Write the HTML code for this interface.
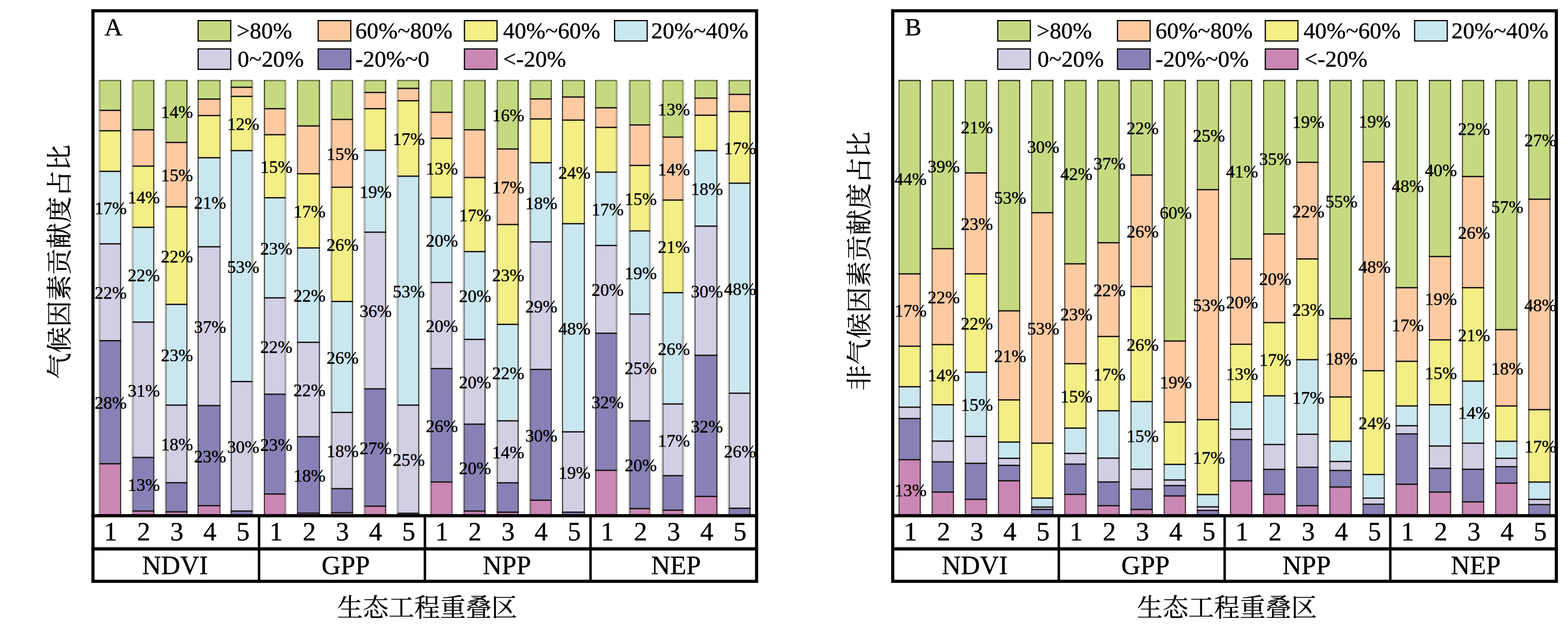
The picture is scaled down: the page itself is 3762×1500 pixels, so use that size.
<!DOCTYPE html>
<html lang="zh"><head><meta charset="utf-8"><title>Contribution ratio charts</title>
<style>
html,body{margin:0;padding:0;background:#fff;}
body{width:3762px;height:1500px;overflow:hidden;}
svg{display:block;}
svg text{font-family:"Liberation Serif",serif;fill:#000;stroke:#000;stroke-width:0.55px;}
svg text.cjk{font-family:"Liberation Serif","Noto Serif CJK SC",serif;}
</style></head><body>
<svg width="3762" height="1500" viewBox="0 0 3762 1500">
<rect width="3762" height="1500" fill="#fff"/>
<g transform="translate(0,0)">
<g>
<rect x="238.4" y="192" width="52.4" height="72.8" fill="#c5da80"/>
<rect x="238.4" y="264.8" width="52.4" height="49.1" fill="#fdcaa2"/>
<rect x="238.4" y="313.9" width="52.4" height="97.3" fill="#f3ee86"/>
<rect x="238.4" y="411.2" width="52.4" height="174" fill="#cae7f0"/>
<rect x="238.4" y="585.2" width="52.4" height="232.4" fill="#d2cee4"/>
<rect x="238.4" y="817.6" width="52.4" height="295.4" fill="#8881b6"/>
<rect x="238.4" y="1113" width="52.4" height="121.5" fill="#ca87b5"/>
<rect x="235.6" y="194" width="2.8" height="1040.5" fill="#8a8678" opacity="0.42"/>
<rect x="238.4" y="192" width="2.7" height="1042.5" fill="#2a261c" opacity="0.3"/>
<rect x="288" y="192" width="2.8" height="1042.5" fill="#2a261c" opacity="0.88"/>
<rect x="238.4" y="191.6" width="52.4" height="3.4" fill="#2a261c" opacity="0.5"/>
<rect x="238.4" y="263.2" width="52.4" height="3.3" fill="#1c1718"/>
<rect x="238.4" y="312.2" width="52.4" height="3.3" fill="#1c1718"/>
<rect x="238.4" y="409.6" width="52.4" height="3.3" fill="#1c1718"/>
<rect x="238.4" y="583.6" width="52.4" height="3.3" fill="#1c1718"/>
<rect x="238.4" y="816" width="52.4" height="3.3" fill="#1c1718"/>
<rect x="238.4" y="1111.3" width="52.4" height="3.3" fill="#1c1718"/>
</g>
<g>
<rect x="317.9" y="192" width="52.4" height="119.5" fill="#c5da80"/>
<rect x="317.9" y="311.5" width="52.4" height="87.2" fill="#fdcaa2"/>
<rect x="317.9" y="398.7" width="52.4" height="146.8" fill="#f3ee86"/>
<rect x="317.9" y="545.5" width="52.4" height="227.5" fill="#cae7f0"/>
<rect x="317.9" y="773" width="52.4" height="325" fill="#d2cee4"/>
<rect x="317.9" y="1098" width="52.4" height="128.6" fill="#8881b6"/>
<rect x="317.9" y="1226.6" width="52.4" height="7.9" fill="#ca87b5"/>
<rect x="315.1" y="194" width="2.8" height="1040.5" fill="#8a8678" opacity="0.42"/>
<rect x="317.9" y="192" width="2.7" height="1042.5" fill="#2a261c" opacity="0.3"/>
<rect x="367.5" y="192" width="2.8" height="1042.5" fill="#2a261c" opacity="0.88"/>
<rect x="317.9" y="191.6" width="52.4" height="3.4" fill="#2a261c" opacity="0.5"/>
<rect x="317.9" y="309.9" width="52.4" height="3.3" fill="#1c1718"/>
<rect x="317.9" y="397.1" width="52.4" height="3.3" fill="#1c1718"/>
<rect x="317.9" y="543.9" width="52.4" height="3.3" fill="#1c1718"/>
<rect x="317.9" y="771.4" width="52.4" height="3.3" fill="#1c1718"/>
<rect x="317.9" y="1096.3" width="52.4" height="3.3" fill="#1c1718"/>
<rect x="317.9" y="1224.9" width="52.4" height="3.3" fill="#1c1718"/>
</g>
<g>
<rect x="397.4" y="192" width="52.4" height="149.9" fill="#c5da80"/>
<rect x="397.4" y="341.9" width="52.4" height="154.5" fill="#fdcaa2"/>
<rect x="397.4" y="496.4" width="52.4" height="234.1" fill="#f3ee86"/>
<rect x="397.4" y="730.5" width="52.4" height="241.7" fill="#cae7f0"/>
<rect x="397.4" y="972.2" width="52.4" height="186.4" fill="#d2cee4"/>
<rect x="397.4" y="1158.6" width="52.4" height="69.9" fill="#8881b6"/>
<rect x="397.4" y="1228.5" width="52.4" height="6" fill="#ca87b5"/>
<rect x="394.6" y="194" width="2.8" height="1040.5" fill="#8a8678" opacity="0.42"/>
<rect x="397.4" y="192" width="2.7" height="1042.5" fill="#2a261c" opacity="0.5"/>
<rect x="447" y="192" width="2.8" height="1042.5" fill="#2a261c" opacity="0.88"/>
<rect x="397.4" y="191.6" width="52.4" height="3.4" fill="#2a261c" opacity="0.5"/>
<rect x="397.4" y="340.2" width="52.4" height="3.3" fill="#1c1718"/>
<rect x="397.4" y="494.8" width="52.4" height="3.3" fill="#1c1718"/>
<rect x="397.4" y="728.9" width="52.4" height="3.3" fill="#1c1718"/>
<rect x="397.4" y="970.6" width="52.4" height="3.3" fill="#1c1718"/>
<rect x="397.4" y="1156.9" width="52.4" height="3.3" fill="#1c1718"/>
<rect x="397.4" y="1226.8" width="52.4" height="3.3" fill="#1c1718"/>
</g>
<g>
<rect x="474" y="192" width="55.2" height="45.9" fill="#c5da80"/>
<rect x="474" y="237.9" width="55.2" height="39.4" fill="#fdcaa2"/>
<rect x="474" y="277.3" width="55.2" height="101.2" fill="#f3ee86"/>
<rect x="474" y="378.5" width="55.2" height="213.7" fill="#cae7f0"/>
<rect x="474" y="592.2" width="55.2" height="381.2" fill="#d2cee4"/>
<rect x="474" y="973.4" width="55.2" height="240.3" fill="#8881b6"/>
<rect x="474" y="1213.7" width="55.2" height="20.8" fill="#ca87b5"/>
<rect x="474" y="192" width="2.7" height="1042.5" fill="#2a261c" opacity="0.85"/>
<rect x="526.4" y="192" width="2.8" height="1042.5" fill="#2a261c" opacity="0.6"/>
<rect x="474" y="191.6" width="55.2" height="3.4" fill="#2a261c" opacity="0.5"/>
<rect x="474" y="236.2" width="55.2" height="3.3" fill="#1c1718"/>
<rect x="474" y="275.7" width="55.2" height="3.3" fill="#1c1718"/>
<rect x="474" y="376.9" width="55.2" height="3.3" fill="#1c1718"/>
<rect x="474" y="590.6" width="55.2" height="3.3" fill="#1c1718"/>
<rect x="474" y="971.8" width="55.2" height="3.3" fill="#1c1718"/>
<rect x="474" y="1212" width="55.2" height="3.3" fill="#1c1718"/>
</g>
<g>
<rect x="553.5" y="192" width="52.4" height="17.5" fill="#c5da80"/>
<rect x="553.5" y="209.5" width="52.4" height="21.8" fill="#fdcaa2"/>
<rect x="553.5" y="231.3" width="52.4" height="130.1" fill="#f3ee86"/>
<rect x="553.5" y="361.4" width="52.4" height="554.4" fill="#cae7f0"/>
<rect x="553.5" y="915.8" width="52.4" height="310.8" fill="#d2cee4"/>
<rect x="553.5" y="1226.6" width="52.4" height="7.9" fill="#8881b6"/>
<rect x="605.9" y="194" width="2.8" height="1040.5" fill="#8a8678" opacity="0.42"/>
<rect x="553.5" y="192" width="2.7" height="1042.5" fill="#2a261c" opacity="0.85"/>
<rect x="603.1" y="192" width="2.8" height="1042.5" fill="#2a261c" opacity="0.35"/>
<rect x="553.5" y="191.6" width="52.4" height="3.4" fill="#2a261c" opacity="0.5"/>
<rect x="553.5" y="207.8" width="52.4" height="3.3" fill="#1c1718"/>
<rect x="553.5" y="229.7" width="52.4" height="3.3" fill="#1c1718"/>
<rect x="553.5" y="359.8" width="52.4" height="3.3" fill="#1c1718"/>
<rect x="553.5" y="914.1" width="52.4" height="3.3" fill="#1c1718"/>
<rect x="553.5" y="1224.9" width="52.4" height="3.3" fill="#1c1718"/>
</g>
<g>
<rect x="633" y="192" width="52.4" height="68.9" fill="#c5da80"/>
<rect x="633" y="260.9" width="52.4" height="62.3" fill="#fdcaa2"/>
<rect x="633" y="323.2" width="52.4" height="151.4" fill="#f3ee86"/>
<rect x="633" y="474.6" width="52.4" height="240.3" fill="#cae7f0"/>
<rect x="633" y="714.9" width="52.4" height="231.2" fill="#d2cee4"/>
<rect x="633" y="946.1" width="52.4" height="239.6" fill="#8881b6"/>
<rect x="633" y="1185.7" width="52.4" height="48.8" fill="#ca87b5"/>
<rect x="685.4" y="194" width="2.8" height="1040.5" fill="#8a8678" opacity="0.42"/>
<rect x="633" y="192" width="2.7" height="1042.5" fill="#2a261c" opacity="0.85"/>
<rect x="682.6" y="192" width="2.8" height="1042.5" fill="#2a261c" opacity="0.35"/>
<rect x="633" y="191.6" width="52.4" height="3.4" fill="#2a261c" opacity="0.5"/>
<rect x="633" y="259.2" width="52.4" height="3.3" fill="#1c1718"/>
<rect x="633" y="321.6" width="52.4" height="3.3" fill="#1c1718"/>
<rect x="633" y="473" width="52.4" height="3.3" fill="#1c1718"/>
<rect x="633" y="713.2" width="52.4" height="3.3" fill="#1c1718"/>
<rect x="633" y="944.5" width="52.4" height="3.3" fill="#1c1718"/>
<rect x="633" y="1184" width="52.4" height="3.3" fill="#1c1718"/>
</g>
<g>
<rect x="712.5" y="192" width="55.2" height="110.2" fill="#c5da80"/>
<rect x="712.5" y="302.2" width="55.2" height="114.8" fill="#fdcaa2"/>
<rect x="712.5" y="417" width="55.2" height="178" fill="#f3ee86"/>
<rect x="712.5" y="595" width="55.2" height="226.5" fill="#cae7f0"/>
<rect x="712.5" y="821.5" width="55.2" height="226.7" fill="#d2cee4"/>
<rect x="712.5" y="1048.2" width="55.2" height="183.4" fill="#8881b6"/>
<rect x="712.5" y="1231.6" width="55.2" height="2.9" fill="#ca87b5"/>
<rect x="712.5" y="192" width="2.7" height="1042.5" fill="#2a261c" opacity="0.7"/>
<rect x="764.9" y="192" width="2.8" height="1042.5" fill="#2a261c" opacity="0.8"/>
<rect x="712.5" y="191.6" width="55.2" height="3.4" fill="#2a261c" opacity="0.5"/>
<rect x="712.5" y="300.6" width="55.2" height="3.3" fill="#1c1718"/>
<rect x="712.5" y="415.4" width="55.2" height="3.3" fill="#1c1718"/>
<rect x="712.5" y="593.4" width="55.2" height="3.3" fill="#1c1718"/>
<rect x="712.5" y="819.9" width="55.2" height="3.3" fill="#1c1718"/>
<rect x="712.5" y="1046.5" width="55.2" height="3.3" fill="#1c1718"/>
<rect x="712.5" y="1229.9" width="55.2" height="3.3" fill="#1c1718"/>
</g>
<g>
<rect x="794.8" y="192" width="52.4" height="94.6" fill="#c5da80"/>
<rect x="794.8" y="286.6" width="52.4" height="162.7" fill="#fdcaa2"/>
<rect x="794.8" y="449.3" width="52.4" height="274.2" fill="#f3ee86"/>
<rect x="794.8" y="723.5" width="52.4" height="266.3" fill="#cae7f0"/>
<rect x="794.8" y="989.8" width="52.4" height="183" fill="#d2cee4"/>
<rect x="794.8" y="1172.8" width="52.4" height="57.7" fill="#8881b6"/>
<rect x="794.8" y="1230.5" width="52.4" height="4" fill="#ca87b5"/>
<rect x="792" y="194" width="2.8" height="1040.5" fill="#8a8678" opacity="0.42"/>
<rect x="794.8" y="192" width="2.7" height="1042.5" fill="#2a261c" opacity="0.5"/>
<rect x="844.4" y="192" width="2.8" height="1042.5" fill="#2a261c" opacity="0.85"/>
<rect x="794.8" y="191.6" width="52.4" height="3.4" fill="#2a261c" opacity="0.5"/>
<rect x="794.8" y="285" width="52.4" height="3.3" fill="#1c1718"/>
<rect x="794.8" y="447.7" width="52.4" height="3.3" fill="#1c1718"/>
<rect x="794.8" y="721.9" width="52.4" height="3.3" fill="#1c1718"/>
<rect x="794.8" y="988.1" width="52.4" height="3.3" fill="#1c1718"/>
<rect x="794.8" y="1171.1" width="52.4" height="3.3" fill="#1c1718"/>
<rect x="794.8" y="1228.8" width="52.4" height="3.3" fill="#1c1718"/>
</g>
<g>
<rect x="874.2" y="192" width="52.4" height="30" fill="#c5da80"/>
<rect x="874.2" y="222" width="52.4" height="38.9" fill="#fdcaa2"/>
<rect x="874.2" y="260.9" width="52.4" height="99.7" fill="#f3ee86"/>
<rect x="874.2" y="360.6" width="52.4" height="196.6" fill="#cae7f0"/>
<rect x="874.2" y="557.2" width="52.4" height="376.1" fill="#d2cee4"/>
<rect x="874.2" y="933.3" width="52.4" height="281.6" fill="#8881b6"/>
<rect x="874.2" y="1214.9" width="52.4" height="19.6" fill="#ca87b5"/>
<rect x="871.4" y="194" width="2.8" height="1040.5" fill="#8a8678" opacity="0.42"/>
<rect x="874.2" y="192" width="2.7" height="1042.5" fill="#2a261c" opacity="0.3"/>
<rect x="923.8" y="192" width="2.8" height="1042.5" fill="#2a261c" opacity="0.85"/>
<rect x="874.2" y="191.6" width="52.4" height="3.4" fill="#2a261c" opacity="0.5"/>
<rect x="874.2" y="220.3" width="52.4" height="3.3" fill="#1c1718"/>
<rect x="874.2" y="259.2" width="52.4" height="3.3" fill="#1c1718"/>
<rect x="874.2" y="359" width="52.4" height="3.3" fill="#1c1718"/>
<rect x="874.2" y="555.6" width="52.4" height="3.3" fill="#1c1718"/>
<rect x="874.2" y="931.6" width="52.4" height="3.3" fill="#1c1718"/>
<rect x="874.2" y="1213.2" width="52.4" height="3.3" fill="#1c1718"/>
</g>
<g>
<rect x="953.7" y="192" width="52.4" height="20.2" fill="#c5da80"/>
<rect x="953.7" y="212.2" width="52.4" height="29.6" fill="#fdcaa2"/>
<rect x="953.7" y="241.8" width="52.4" height="181" fill="#f3ee86"/>
<rect x="953.7" y="422.8" width="52.4" height="549.4" fill="#cae7f0"/>
<rect x="953.7" y="972.2" width="52.4" height="259.8" fill="#d2cee4"/>
<rect x="953.7" y="1232" width="52.4" height="2.5" fill="#8881b6"/>
<rect x="950.9" y="194" width="2.8" height="1040.5" fill="#8a8678" opacity="0.42"/>
<rect x="953.7" y="192" width="2.7" height="1042.5" fill="#2a261c" opacity="0.3"/>
<rect x="1003.3" y="192" width="2.8" height="1042.5" fill="#2a261c" opacity="0.85"/>
<rect x="953.7" y="191.6" width="52.4" height="3.4" fill="#2a261c" opacity="0.5"/>
<rect x="953.7" y="210.5" width="52.4" height="3.3" fill="#1c1718"/>
<rect x="953.7" y="240.2" width="52.4" height="3.3" fill="#1c1718"/>
<rect x="953.7" y="421.2" width="52.4" height="3.3" fill="#1c1718"/>
<rect x="953.7" y="970.6" width="52.4" height="3.3" fill="#1c1718"/>
<rect x="953.7" y="1230.3" width="52.4" height="3.3" fill="#1c1718"/>
</g>
<g>
<rect x="1033.2" y="192" width="52.4" height="77.5" fill="#c5da80"/>
<rect x="1033.2" y="269.5" width="52.4" height="62.3" fill="#fdcaa2"/>
<rect x="1033.2" y="331.8" width="52.4" height="141.7" fill="#f3ee86"/>
<rect x="1033.2" y="473.5" width="52.4" height="204.4" fill="#cae7f0"/>
<rect x="1033.2" y="677.9" width="52.4" height="206.7" fill="#d2cee4"/>
<rect x="1033.2" y="884.6" width="52.4" height="272.2" fill="#8881b6"/>
<rect x="1033.2" y="1156.8" width="52.4" height="77.7" fill="#ca87b5"/>
<rect x="1030.4" y="194" width="2.8" height="1040.5" fill="#8a8678" opacity="0.42"/>
<rect x="1033.2" y="192" width="2.7" height="1042.5" fill="#2a261c" opacity="0.45"/>
<rect x="1082.8" y="192" width="2.8" height="1042.5" fill="#2a261c" opacity="0.55"/>
<rect x="1033.2" y="191.6" width="52.4" height="3.4" fill="#2a261c" opacity="0.5"/>
<rect x="1033.2" y="267.9" width="52.4" height="3.3" fill="#1c1718"/>
<rect x="1033.2" y="330.2" width="52.4" height="3.3" fill="#1c1718"/>
<rect x="1033.2" y="471.9" width="52.4" height="3.3" fill="#1c1718"/>
<rect x="1033.2" y="676.2" width="52.4" height="3.3" fill="#1c1718"/>
<rect x="1033.2" y="883" width="52.4" height="3.3" fill="#1c1718"/>
<rect x="1033.2" y="1155.1" width="52.4" height="3.3" fill="#1c1718"/>
</g>
<g>
<rect x="1112.7" y="192" width="52.4" height="119.5" fill="#c5da80"/>
<rect x="1112.7" y="311.5" width="52.4" height="114.5" fill="#fdcaa2"/>
<rect x="1112.7" y="426" width="52.4" height="177.9" fill="#f3ee86"/>
<rect x="1112.7" y="603.9" width="52.4" height="210.6" fill="#cae7f0"/>
<rect x="1112.7" y="814.5" width="52.4" height="203.5" fill="#d2cee4"/>
<rect x="1112.7" y="1018" width="52.4" height="208.6" fill="#8881b6"/>
<rect x="1112.7" y="1226.6" width="52.4" height="7.9" fill="#ca87b5"/>
<rect x="1109.9" y="194" width="2.8" height="1040.5" fill="#8a8678" opacity="0.42"/>
<rect x="1112.7" y="192" width="2.7" height="1042.5" fill="#2a261c" opacity="0.55"/>
<rect x="1162.3" y="192" width="2.8" height="1042.5" fill="#2a261c" opacity="0.85"/>
<rect x="1112.7" y="191.6" width="52.4" height="3.4" fill="#2a261c" opacity="0.5"/>
<rect x="1112.7" y="309.9" width="52.4" height="3.3" fill="#1c1718"/>
<rect x="1112.7" y="424.4" width="52.4" height="3.3" fill="#1c1718"/>
<rect x="1112.7" y="602.2" width="52.4" height="3.3" fill="#1c1718"/>
<rect x="1112.7" y="812.9" width="52.4" height="3.3" fill="#1c1718"/>
<rect x="1112.7" y="1016.4" width="52.4" height="3.3" fill="#1c1718"/>
<rect x="1112.7" y="1224.9" width="52.4" height="3.3" fill="#1c1718"/>
</g>
<g>
<rect x="1192.2" y="192" width="52.4" height="165.5" fill="#c5da80"/>
<rect x="1192.2" y="357.5" width="52.4" height="181.4" fill="#fdcaa2"/>
<rect x="1192.2" y="538.9" width="52.4" height="239.5" fill="#f3ee86"/>
<rect x="1192.2" y="778.4" width="52.4" height="231.6" fill="#cae7f0"/>
<rect x="1192.2" y="1010" width="52.4" height="148.8" fill="#d2cee4"/>
<rect x="1192.2" y="1158.8" width="52.4" height="70.5" fill="#8881b6"/>
<rect x="1192.2" y="1229.3" width="52.4" height="5.2" fill="#ca87b5"/>
<rect x="1189.4" y="194" width="2.8" height="1040.5" fill="#8a8678" opacity="0.42"/>
<rect x="1192.2" y="192" width="2.7" height="1042.5" fill="#2a261c" opacity="0.55"/>
<rect x="1241.8" y="192" width="2.8" height="1042.5" fill="#2a261c" opacity="0.85"/>
<rect x="1192.2" y="191.6" width="52.4" height="3.4" fill="#2a261c" opacity="0.5"/>
<rect x="1192.2" y="355.9" width="52.4" height="3.3" fill="#1c1718"/>
<rect x="1192.2" y="537.2" width="52.4" height="3.3" fill="#1c1718"/>
<rect x="1192.2" y="776.8" width="52.4" height="3.3" fill="#1c1718"/>
<rect x="1192.2" y="1008.4" width="52.4" height="3.3" fill="#1c1718"/>
<rect x="1192.2" y="1157.1" width="52.4" height="3.3" fill="#1c1718"/>
<rect x="1192.2" y="1227.6" width="52.4" height="3.3" fill="#1c1718"/>
</g>
<g>
<rect x="1271.6" y="192" width="52.4" height="45.5" fill="#c5da80"/>
<rect x="1271.6" y="237.5" width="52.4" height="47.9" fill="#fdcaa2"/>
<rect x="1271.6" y="285.4" width="52.4" height="105.1" fill="#f3ee86"/>
<rect x="1271.6" y="390.5" width="52.4" height="190" fill="#cae7f0"/>
<rect x="1271.6" y="580.5" width="52.4" height="306.1" fill="#d2cee4"/>
<rect x="1271.6" y="886.6" width="52.4" height="313.9" fill="#8881b6"/>
<rect x="1271.6" y="1200.5" width="52.4" height="34" fill="#ca87b5"/>
<rect x="1268.8" y="194" width="2.8" height="1040.5" fill="#8a8678" opacity="0.42"/>
<rect x="1271.6" y="192" width="2.7" height="1042.5" fill="#2a261c" opacity="0.55"/>
<rect x="1321.2" y="192" width="2.8" height="1042.5" fill="#2a261c" opacity="0.7"/>
<rect x="1271.6" y="191.6" width="52.4" height="3.4" fill="#2a261c" opacity="0.5"/>
<rect x="1271.6" y="235.8" width="52.4" height="3.3" fill="#1c1718"/>
<rect x="1271.6" y="283.8" width="52.4" height="3.3" fill="#1c1718"/>
<rect x="1271.6" y="388.9" width="52.4" height="3.3" fill="#1c1718"/>
<rect x="1271.6" y="578.9" width="52.4" height="3.3" fill="#1c1718"/>
<rect x="1271.6" y="885" width="52.4" height="3.3" fill="#1c1718"/>
<rect x="1271.6" y="1198.8" width="52.4" height="3.3" fill="#1c1718"/>
</g>
<g>
<rect x="1348.3" y="192" width="55.2" height="40.9" fill="#c5da80"/>
<rect x="1348.3" y="232.9" width="55.2" height="55.3" fill="#fdcaa2"/>
<rect x="1348.3" y="288.2" width="55.2" height="248.7" fill="#f3ee86"/>
<rect x="1348.3" y="536.9" width="55.2" height="499.6" fill="#cae7f0"/>
<rect x="1348.3" y="1036.5" width="55.2" height="192.8" fill="#d2cee4"/>
<rect x="1348.3" y="1229.3" width="55.2" height="5.2" fill="#8881b6"/>
<rect x="1348.3" y="192" width="2.7" height="1042.5" fill="#2a261c" opacity="0.85"/>
<rect x="1400.7" y="192" width="2.8" height="1042.5" fill="#2a261c" opacity="0.85"/>
<rect x="1348.3" y="191.6" width="55.2" height="3.4" fill="#2a261c" opacity="0.5"/>
<rect x="1348.3" y="231.2" width="55.2" height="3.3" fill="#1c1718"/>
<rect x="1348.3" y="286.6" width="55.2" height="3.3" fill="#1c1718"/>
<rect x="1348.3" y="535.2" width="55.2" height="3.3" fill="#1c1718"/>
<rect x="1348.3" y="1034.8" width="55.2" height="3.3" fill="#1c1718"/>
<rect x="1348.3" y="1227.6" width="55.2" height="3.3" fill="#1c1718"/>
</g>
<g>
<rect x="1427.8" y="192" width="52.4" height="66.6" fill="#c5da80"/>
<rect x="1427.8" y="258.6" width="52.4" height="47.1" fill="#fdcaa2"/>
<rect x="1427.8" y="305.7" width="52.4" height="107.4" fill="#f3ee86"/>
<rect x="1427.8" y="413.1" width="52.4" height="176" fill="#cae7f0"/>
<rect x="1427.8" y="589.1" width="52.4" height="210.6" fill="#d2cee4"/>
<rect x="1427.8" y="799.7" width="52.4" height="329.1" fill="#8881b6"/>
<rect x="1427.8" y="1128.8" width="52.4" height="105.7" fill="#ca87b5"/>
<rect x="1480.2" y="194" width="2.8" height="1040.5" fill="#8a8678" opacity="0.42"/>
<rect x="1427.8" y="192" width="2.7" height="1042.5" fill="#2a261c" opacity="0.7"/>
<rect x="1477.4" y="192" width="2.8" height="1042.5" fill="#2a261c" opacity="0.35"/>
<rect x="1427.8" y="191.6" width="52.4" height="3.4" fill="#2a261c" opacity="0.5"/>
<rect x="1427.8" y="257" width="52.4" height="3.3" fill="#1c1718"/>
<rect x="1427.8" y="304.1" width="52.4" height="3.3" fill="#1c1718"/>
<rect x="1427.8" y="411.5" width="52.4" height="3.3" fill="#1c1718"/>
<rect x="1427.8" y="587.5" width="52.4" height="3.3" fill="#1c1718"/>
<rect x="1427.8" y="798.1" width="52.4" height="3.3" fill="#1c1718"/>
<rect x="1427.8" y="1127.1" width="52.4" height="3.3" fill="#1c1718"/>
</g>
<g>
<rect x="1510.1" y="192" width="49.6" height="107.8" fill="#c5da80"/>
<rect x="1510.1" y="299.8" width="49.6" height="97.2" fill="#fdcaa2"/>
<rect x="1510.1" y="397" width="49.6" height="157.1" fill="#f3ee86"/>
<rect x="1510.1" y="554.1" width="49.6" height="199.7" fill="#cae7f0"/>
<rect x="1510.1" y="753.8" width="49.6" height="256.2" fill="#d2cee4"/>
<rect x="1510.1" y="1010" width="49.6" height="210.7" fill="#8881b6"/>
<rect x="1510.1" y="1220.7" width="49.6" height="13.8" fill="#ca87b5"/>
<rect x="1507.3" y="194" width="2.8" height="1040.5" fill="#8a8678" opacity="0.42"/>
<rect x="1559.7" y="194" width="2.8" height="1040.5" fill="#8a8678" opacity="0.42"/>
<rect x="1510.1" y="192" width="2.7" height="1042.5" fill="#2a261c" opacity="0.55"/>
<rect x="1556.9" y="192" width="2.8" height="1042.5" fill="#2a261c" opacity="0.35"/>
<rect x="1510.1" y="191.6" width="49.6" height="3.4" fill="#2a261c" opacity="0.5"/>
<rect x="1510.1" y="298.2" width="49.6" height="3.3" fill="#1c1718"/>
<rect x="1510.1" y="395.4" width="49.6" height="3.3" fill="#1c1718"/>
<rect x="1510.1" y="552.5" width="49.6" height="3.3" fill="#1c1718"/>
<rect x="1510.1" y="752.1" width="49.6" height="3.3" fill="#1c1718"/>
<rect x="1510.1" y="1008.4" width="49.6" height="3.3" fill="#1c1718"/>
<rect x="1510.1" y="1219" width="49.6" height="3.3" fill="#1c1718"/>
</g>
<g>
<rect x="1589.6" y="192" width="49.6" height="137" fill="#c5da80"/>
<rect x="1589.6" y="329" width="49.6" height="151.1" fill="#fdcaa2"/>
<rect x="1589.6" y="480.1" width="49.6" height="222.3" fill="#f3ee86"/>
<rect x="1589.6" y="702.4" width="49.6" height="267.1" fill="#cae7f0"/>
<rect x="1589.6" y="969.5" width="49.6" height="172.1" fill="#d2cee4"/>
<rect x="1589.6" y="1141.6" width="49.6" height="83" fill="#8881b6"/>
<rect x="1589.6" y="1224.6" width="49.6" height="9.9" fill="#ca87b5"/>
<rect x="1586.8" y="194" width="2.8" height="1040.5" fill="#8a8678" opacity="0.42"/>
<rect x="1639.2" y="194" width="2.8" height="1040.5" fill="#8a8678" opacity="0.42"/>
<rect x="1589.6" y="192" width="2.7" height="1042.5" fill="#2a261c" opacity="0.55"/>
<rect x="1636.4" y="192" width="2.8" height="1042.5" fill="#2a261c" opacity="0.35"/>
<rect x="1589.6" y="191.6" width="49.6" height="3.4" fill="#2a261c" opacity="0.5"/>
<rect x="1589.6" y="327.4" width="49.6" height="3.3" fill="#1c1718"/>
<rect x="1589.6" y="478.5" width="49.6" height="3.3" fill="#1c1718"/>
<rect x="1589.6" y="700.8" width="49.6" height="3.3" fill="#1c1718"/>
<rect x="1589.6" y="967.9" width="49.6" height="3.3" fill="#1c1718"/>
<rect x="1589.6" y="1139.9" width="49.6" height="3.3" fill="#1c1718"/>
<rect x="1589.6" y="1222.9" width="49.6" height="3.3" fill="#1c1718"/>
</g>
<g>
<rect x="1666.2" y="192" width="55.2" height="43.6" fill="#c5da80"/>
<rect x="1666.2" y="235.6" width="55.2" height="40.9" fill="#fdcaa2"/>
<rect x="1666.2" y="276.5" width="55.2" height="84.9" fill="#f3ee86"/>
<rect x="1666.2" y="361.4" width="55.2" height="181.4" fill="#cae7f0"/>
<rect x="1666.2" y="542.8" width="55.2" height="309.9" fill="#d2cee4"/>
<rect x="1666.2" y="852.7" width="55.2" height="338.8" fill="#8881b6"/>
<rect x="1666.2" y="1191.5" width="55.2" height="43" fill="#ca87b5"/>
<rect x="1666.2" y="192" width="2.7" height="1042.5" fill="#2a261c" opacity="0.7"/>
<rect x="1718.6" y="192" width="2.8" height="1042.5" fill="#2a261c" opacity="0.85"/>
<rect x="1666.2" y="191.6" width="55.2" height="3.4" fill="#2a261c" opacity="0.5"/>
<rect x="1666.2" y="233.9" width="55.2" height="3.3" fill="#1c1718"/>
<rect x="1666.2" y="274.9" width="55.2" height="3.3" fill="#1c1718"/>
<rect x="1666.2" y="359.8" width="55.2" height="3.3" fill="#1c1718"/>
<rect x="1666.2" y="541.1" width="55.2" height="3.3" fill="#1c1718"/>
<rect x="1666.2" y="851.1" width="55.2" height="3.3" fill="#1c1718"/>
<rect x="1666.2" y="1189.8" width="55.2" height="3.3" fill="#1c1718"/>
</g>
<g>
<rect x="1748.5" y="192" width="52.4" height="34.6" fill="#c5da80"/>
<rect x="1748.5" y="226.6" width="52.4" height="40.9" fill="#fdcaa2"/>
<rect x="1748.5" y="267.5" width="52.4" height="172.1" fill="#f3ee86"/>
<rect x="1748.5" y="439.6" width="52.4" height="504.2" fill="#cae7f0"/>
<rect x="1748.5" y="943.8" width="52.4" height="276.1" fill="#d2cee4"/>
<rect x="1748.5" y="1219.9" width="52.4" height="14.6" fill="#8881b6"/>
<rect x="1745.7" y="194" width="2.8" height="1040.5" fill="#8a8678" opacity="0.42"/>
<rect x="1748.5" y="192" width="2.7" height="1042.5" fill="#2a261c" opacity="0.55"/>
<rect x="1798.1" y="192" width="2.8" height="1042.5" fill="#2a261c" opacity="0.88"/>
<rect x="1748.5" y="191.6" width="52.4" height="3.4" fill="#2a261c" opacity="0.5"/>
<rect x="1748.5" y="224.9" width="52.4" height="3.3" fill="#1c1718"/>
<rect x="1748.5" y="265.9" width="52.4" height="3.3" fill="#1c1718"/>
<rect x="1748.5" y="438" width="52.4" height="3.3" fill="#1c1718"/>
<rect x="1748.5" y="942.1" width="52.4" height="3.3" fill="#1c1718"/>
<rect x="1748.5" y="1218.2" width="52.4" height="3.3" fill="#1c1718"/>
</g>
<g font-size="42" text-anchor="middle">
<text x="265.5" y="514.2">17%</text>
<text x="265.5" y="717.4">22%</text>
<text x="265.5" y="981.3">28%</text>
<text x="345" y="488.1">14%</text>
<text x="345" y="675.2">22%</text>
<text x="345" y="951.5">31%</text>
<text x="345" y="1178.3">13%</text>
<text x="424.5" y="282.9">14%</text>
<text x="424.5" y="435.1">15%</text>
<text x="424.5" y="629.5">22%</text>
<text x="424.5" y="867.4">23%</text>
<text x="424.5" y="1081.4">18%</text>
<text x="503.9" y="501.4">21%</text>
<text x="503.9" y="798.8">37%</text>
<text x="503.9" y="1109.5">23%</text>
<text x="583.4" y="312.4">12%</text>
<text x="583.4" y="654.6">53%</text>
<text x="583.4" y="1087.2">30%</text>
<text x="662.9" y="414.9">15%</text>
<text x="662.9" y="610.8">23%</text>
<text x="662.9" y="846.5">22%</text>
<text x="662.9" y="1081.9">23%</text>
<text x="742.4" y="522">17%</text>
<text x="742.4" y="724.2">22%</text>
<text x="742.4" y="950.9">22%</text>
<text x="742.4" y="1155.9">18%</text>
<text x="821.9" y="384">15%</text>
<text x="821.9" y="602.4">26%</text>
<text x="821.9" y="872.6">26%</text>
<text x="821.9" y="1097.3">18%</text>
<text x="901.3" y="474.9">19%</text>
<text x="901.3" y="761.2">36%</text>
<text x="901.3" y="1090.1">27%</text>
<text x="980.8" y="348.3">17%</text>
<text x="980.8" y="713.5">53%</text>
<text x="980.8" y="1118.1">25%</text>
<text x="1060.3" y="418.6">13%</text>
<text x="1060.3" y="591.7">20%</text>
<text x="1060.3" y="797.2">20%</text>
<text x="1060.3" y="1036.7">26%</text>
<text x="1139.8" y="531">17%</text>
<text x="1139.8" y="725.2">20%</text>
<text x="1139.8" y="932.2">20%</text>
<text x="1139.8" y="1138.3">20%</text>
<text x="1219.3" y="290.8">16%</text>
<text x="1219.3" y="464.2">17%</text>
<text x="1219.3" y="674.6">23%</text>
<text x="1219.3" y="910.2">22%</text>
<text x="1219.3" y="1100.4">14%</text>
<text x="1298.7" y="501.5">18%</text>
<text x="1298.7" y="749.5">29%</text>
<text x="1298.7" y="1059.5">30%</text>
<text x="1378.2" y="428.5">24%</text>
<text x="1378.2" y="802.7">48%</text>
<text x="1378.2" y="1148.9">19%</text>
<text x="1457.7" y="517.1">17%</text>
<text x="1457.7" y="710.4">20%</text>
<text x="1457.7" y="980.2">32%</text>
<text x="1537.2" y="491.6">15%</text>
<text x="1537.2" y="670">19%</text>
<text x="1537.2" y="897.9">25%</text>
<text x="1537.2" y="1131.3">20%</text>
<text x="1616.7" y="276.5">13%</text>
<text x="1616.7" y="420.6">14%</text>
<text x="1616.7" y="607.2">21%</text>
<text x="1616.7" y="852">26%</text>
<text x="1616.7" y="1071.5">17%</text>
<text x="1696.1" y="468.1">18%</text>
<text x="1696.1" y="713.8">30%</text>
<text x="1696.1" y="1038.1">32%</text>
<text x="1775.6" y="369.6">17%</text>
<text x="1775.6" y="707.7">48%</text>
<text x="1775.6" y="1097.8">26%</text>
</g>
<rect x="223.05" y="25.9" width="1592.2" height="1369.3" fill="none" stroke="#000" stroke-width="7.5"/>
<rect x="219.3" y="1233.9" width="1599.6" height="7.7" fill="#000"/>
<rect x="219.3" y="1313.4" width="1599.6" height="7.8" fill="#000"/>
<rect x="618.6" y="1238" width="5.9" height="156" fill="#000"/>
<rect x="1016.5" y="1238" width="5.9" height="156" fill="#000"/>
<rect x="1413.9" y="1238" width="5.9" height="156" fill="#000"/>
<g font-size="63.2" text-anchor="middle">
<text x="265.2" y="1296.9">1</text>
<text x="344.7" y="1296.9">2</text>
<text x="424.2" y="1296.9">3</text>
<text x="503.6" y="1296.9">4</text>
<text x="583.1" y="1296.9">5</text>
<text x="662.6" y="1296.9">1</text>
<text x="742.1" y="1296.9">2</text>
<text x="821.6" y="1296.9">3</text>
<text x="901" y="1296.9">4</text>
<text x="980.5" y="1296.9">5</text>
<text x="1060" y="1296.9">1</text>
<text x="1139.5" y="1296.9">2</text>
<text x="1219" y="1296.9">3</text>
<text x="1298.4" y="1296.9">4</text>
<text x="1377.9" y="1296.9">5</text>
<text x="1457.4" y="1296.9">1</text>
<text x="1536.9" y="1296.9">2</text>
<text x="1616.4" y="1296.9">3</text>
<text x="1695.8" y="1296.9">4</text>
<text x="1775.3" y="1296.9">5</text>
<text x="420" y="1377.8">NDVI</text>
<text x="829.5" y="1377.8">GPP</text>
<text x="1216.1" y="1377.8">NPP</text>
<text x="1622" y="1377.8">NEP</text>
</g>
<text x="250.5" y="84.8" font-size="60">A</text>
<g font-size="55.4">
<rect x="475.4" y="49.5" width="78.2" height="48.9" fill="#c5da80" stroke="#0c0c0c" stroke-width="3"/>
<text x="568" y="92.3">&gt;80%</text>
<rect x="763.4" y="49.5" width="78.2" height="48.9" fill="#fdcaa2" stroke="#0c0c0c" stroke-width="3"/>
<text x="852.5" y="92.3">60%~80%</text>
<rect x="1114.3" y="49.5" width="78.2" height="48.9" fill="#f3ee86" stroke="#0c0c0c" stroke-width="3"/>
<text x="1207" y="92.3">40%~60%</text>
<rect x="1474.5" y="49.5" width="78.2" height="48.9" fill="#cae7f0" stroke="#0c0c0c" stroke-width="3"/>
<text x="1562.3" y="92.3">20%~40%</text>
<rect x="475.4" y="117.5" width="78.2" height="48.9" fill="#d2cee4" stroke="#0c0c0c" stroke-width="3"/>
<text x="570" y="160.3">0~20%</text>
<rect x="763.4" y="117.5" width="78.2" height="48.9" fill="#8881b6" stroke="#0c0c0c" stroke-width="3"/>
<text x="852.5" y="160.3">-20%~0</text>
<rect x="1114.3" y="117.5" width="78.2" height="48.9" fill="#ca87b5" stroke="#0c0c0c" stroke-width="3"/>
<text x="1207" y="160.3">&lt;-20%</text>
</g>
<text class="cjk" x="808.9" y="1479.8" font-size="61.7" textLength="431.9">生态工程重叠区</text>
</g>
<g transform="translate(1918.8,0)">
<g>
<rect x="236.9" y="192" width="53.6" height="465.3" fill="#c5da80"/>
<rect x="236.9" y="657.3" width="53.6" height="173.6" fill="#fdcaa2"/>
<rect x="236.9" y="830.9" width="53.6" height="97.3" fill="#f3ee86"/>
<rect x="236.9" y="928.2" width="53.6" height="49.1" fill="#cae7f0"/>
<rect x="236.9" y="977.3" width="53.6" height="27.2" fill="#d2cee4"/>
<rect x="236.9" y="1004.5" width="53.6" height="98.8" fill="#8881b6"/>
<rect x="236.9" y="1103.3" width="53.6" height="131.2" fill="#ca87b5"/>
<rect x="236.9" y="192" width="2.7" height="1042.5" fill="#2a261c" opacity="0.75"/>
<rect x="287.7" y="192" width="2.8" height="1042.5" fill="#2a261c" opacity="0.8"/>
<rect x="236.9" y="191.6" width="53.6" height="3.4" fill="#2a261c" opacity="0.8"/>
<rect x="236.9" y="655.6" width="53.6" height="3.3" fill="#1c1718"/>
<rect x="236.9" y="829.2" width="53.6" height="3.3" fill="#1c1718"/>
<rect x="236.9" y="926.6" width="53.6" height="3.3" fill="#1c1718"/>
<rect x="236.9" y="975.6" width="53.6" height="3.3" fill="#1c1718"/>
<rect x="236.9" y="1002.9" width="53.6" height="3.3" fill="#1c1718"/>
<rect x="236.9" y="1101.6" width="53.6" height="3.3" fill="#1c1718"/>
</g>
<g>
<rect x="316.4" y="192" width="53.6" height="404.9" fill="#c5da80"/>
<rect x="316.4" y="596.9" width="53.6" height="230.1" fill="#fdcaa2"/>
<rect x="316.4" y="827" width="53.6" height="144.4" fill="#f3ee86"/>
<rect x="316.4" y="971.4" width="53.6" height="87.3" fill="#cae7f0"/>
<rect x="316.4" y="1058.7" width="53.6" height="49.8" fill="#d2cee4"/>
<rect x="316.4" y="1108.5" width="53.6" height="72.5" fill="#8881b6"/>
<rect x="316.4" y="1181" width="53.6" height="53.5" fill="#ca87b5"/>
<rect x="316.4" y="192" width="2.7" height="1042.5" fill="#2a261c" opacity="0.75"/>
<rect x="367.2" y="192" width="2.8" height="1042.5" fill="#2a261c" opacity="0.8"/>
<rect x="316.4" y="191.6" width="53.6" height="3.4" fill="#2a261c" opacity="0.8"/>
<rect x="316.4" y="595.2" width="53.6" height="3.3" fill="#1c1718"/>
<rect x="316.4" y="825.4" width="53.6" height="3.3" fill="#1c1718"/>
<rect x="316.4" y="969.8" width="53.6" height="3.3" fill="#1c1718"/>
<rect x="316.4" y="1057" width="53.6" height="3.3" fill="#1c1718"/>
<rect x="316.4" y="1106.8" width="53.6" height="3.3" fill="#1c1718"/>
<rect x="316.4" y="1179.3" width="53.6" height="3.3" fill="#1c1718"/>
</g>
<g>
<rect x="395.9" y="192" width="53.6" height="223" fill="#c5da80"/>
<rect x="395.9" y="415" width="53.6" height="242.3" fill="#fdcaa2"/>
<rect x="395.9" y="657.3" width="53.6" height="235.9" fill="#f3ee86"/>
<rect x="395.9" y="893.2" width="53.6" height="154.2" fill="#cae7f0"/>
<rect x="395.9" y="1047.4" width="53.6" height="64.6" fill="#d2cee4"/>
<rect x="395.9" y="1112" width="53.6" height="86.5" fill="#8881b6"/>
<rect x="395.9" y="1198.5" width="53.6" height="36" fill="#ca87b5"/>
<rect x="395.9" y="192" width="2.7" height="1042.5" fill="#2a261c" opacity="0.75"/>
<rect x="446.7" y="192" width="2.8" height="1042.5" fill="#2a261c" opacity="0.8"/>
<rect x="395.9" y="191.6" width="53.6" height="3.4" fill="#2a261c" opacity="0.8"/>
<rect x="395.9" y="413.4" width="53.6" height="3.3" fill="#1c1718"/>
<rect x="395.9" y="655.6" width="53.6" height="3.3" fill="#1c1718"/>
<rect x="395.9" y="891.6" width="53.6" height="3.3" fill="#1c1718"/>
<rect x="395.9" y="1045.8" width="53.6" height="3.3" fill="#1c1718"/>
<rect x="395.9" y="1110.3" width="53.6" height="3.3" fill="#1c1718"/>
<rect x="395.9" y="1196.8" width="53.6" height="3.3" fill="#1c1718"/>
</g>
<g>
<rect x="475.5" y="192" width="53.6" height="554" fill="#c5da80"/>
<rect x="475.5" y="746" width="53.6" height="213.8" fill="#fdcaa2"/>
<rect x="475.5" y="959.8" width="53.6" height="101.2" fill="#f3ee86"/>
<rect x="475.5" y="1061" width="53.6" height="39" fill="#cae7f0"/>
<rect x="475.5" y="1100" width="53.6" height="17" fill="#d2cee4"/>
<rect x="475.5" y="1117" width="53.6" height="36.9" fill="#8881b6"/>
<rect x="475.5" y="1153.9" width="53.6" height="80.6" fill="#ca87b5"/>
<rect x="475.5" y="192" width="2.7" height="1042.5" fill="#2a261c" opacity="0.75"/>
<rect x="526.3" y="192" width="2.8" height="1042.5" fill="#2a261c" opacity="0.8"/>
<rect x="475.5" y="191.6" width="53.6" height="3.4" fill="#2a261c" opacity="0.8"/>
<rect x="475.5" y="744.4" width="53.6" height="3.3" fill="#1c1718"/>
<rect x="475.5" y="958.1" width="53.6" height="3.3" fill="#1c1718"/>
<rect x="475.5" y="1059.3" width="53.6" height="3.3" fill="#1c1718"/>
<rect x="475.5" y="1098.3" width="53.6" height="3.3" fill="#1c1718"/>
<rect x="475.5" y="1115.3" width="53.6" height="3.3" fill="#1c1718"/>
<rect x="475.5" y="1152.2" width="53.6" height="3.3" fill="#1c1718"/>
</g>
<g>
<rect x="555" y="192" width="53.6" height="318.5" fill="#c5da80"/>
<rect x="555" y="510.5" width="53.6" height="553.2" fill="#fdcaa2"/>
<rect x="555" y="1063.7" width="53.6" height="131.8" fill="#f3ee86"/>
<rect x="555" y="1195.5" width="53.6" height="21.5" fill="#cae7f0"/>
<rect x="555" y="1217" width="53.6" height="5.6" fill="#d2cee4"/>
<rect x="555" y="1222.6" width="53.6" height="11.9" fill="#8881b6"/>
<rect x="555" y="192" width="2.7" height="1042.5" fill="#2a261c" opacity="0.75"/>
<rect x="605.8" y="192" width="2.8" height="1042.5" fill="#2a261c" opacity="0.8"/>
<rect x="555" y="191.6" width="53.6" height="3.4" fill="#2a261c" opacity="0.8"/>
<rect x="555" y="508.9" width="53.6" height="3.3" fill="#1c1718"/>
<rect x="555" y="1062" width="53.6" height="3.3" fill="#1c1718"/>
<rect x="555" y="1193.8" width="53.6" height="3.3" fill="#1c1718"/>
<rect x="555" y="1215.3" width="53.6" height="3.3" fill="#1c1718"/>
<rect x="555" y="1220.9" width="53.6" height="3.3" fill="#1c1718"/>
</g>
<g>
<rect x="634.5" y="192" width="53.6" height="441.1" fill="#c5da80"/>
<rect x="634.5" y="633.1" width="53.6" height="239.8" fill="#fdcaa2"/>
<rect x="634.5" y="872.9" width="53.6" height="154.6" fill="#f3ee86"/>
<rect x="634.5" y="1027.5" width="53.6" height="60.8" fill="#cae7f0"/>
<rect x="634.5" y="1088.3" width="53.6" height="25.7" fill="#d2cee4"/>
<rect x="634.5" y="1114" width="53.6" height="72.4" fill="#8881b6"/>
<rect x="634.5" y="1186.4" width="53.6" height="48.1" fill="#ca87b5"/>
<rect x="634.5" y="192" width="2.7" height="1042.5" fill="#2a261c" opacity="0.75"/>
<rect x="685.3" y="192" width="2.8" height="1042.5" fill="#2a261c" opacity="0.8"/>
<rect x="634.5" y="191.6" width="53.6" height="3.4" fill="#2a261c" opacity="0.8"/>
<rect x="634.5" y="631.5" width="53.6" height="3.3" fill="#1c1718"/>
<rect x="634.5" y="871.2" width="53.6" height="3.3" fill="#1c1718"/>
<rect x="634.5" y="1025.8" width="53.6" height="3.3" fill="#1c1718"/>
<rect x="634.5" y="1086.6" width="53.6" height="3.3" fill="#1c1718"/>
<rect x="634.5" y="1112.3" width="53.6" height="3.3" fill="#1c1718"/>
<rect x="634.5" y="1184.8" width="53.6" height="3.3" fill="#1c1718"/>
</g>
<g>
<rect x="714" y="192" width="53.6" height="390.5" fill="#c5da80"/>
<rect x="714" y="582.5" width="53.6" height="225" fill="#fdcaa2"/>
<rect x="714" y="807.5" width="53.6" height="178.4" fill="#f3ee86"/>
<rect x="714" y="985.9" width="53.6" height="113.7" fill="#cae7f0"/>
<rect x="714" y="1099.6" width="53.6" height="57.2" fill="#d2cee4"/>
<rect x="714" y="1156.8" width="53.6" height="56.9" fill="#8881b6"/>
<rect x="714" y="1213.7" width="53.6" height="20.8" fill="#ca87b5"/>
<rect x="714" y="192" width="2.7" height="1042.5" fill="#2a261c" opacity="0.75"/>
<rect x="764.8" y="192" width="2.8" height="1042.5" fill="#2a261c" opacity="0.8"/>
<rect x="714" y="191.6" width="53.6" height="3.4" fill="#2a261c" opacity="0.8"/>
<rect x="714" y="580.9" width="53.6" height="3.3" fill="#1c1718"/>
<rect x="714" y="805.9" width="53.6" height="3.3" fill="#1c1718"/>
<rect x="714" y="984.2" width="53.6" height="3.3" fill="#1c1718"/>
<rect x="714" y="1097.9" width="53.6" height="3.3" fill="#1c1718"/>
<rect x="714" y="1155.1" width="53.6" height="3.3" fill="#1c1718"/>
<rect x="714" y="1212" width="53.6" height="3.3" fill="#1c1718"/>
</g>
<g>
<rect x="793.5" y="192" width="53.6" height="228.1" fill="#c5da80"/>
<rect x="793.5" y="420.1" width="53.6" height="267.5" fill="#fdcaa2"/>
<rect x="793.5" y="687.6" width="53.6" height="276.1" fill="#f3ee86"/>
<rect x="793.5" y="963.7" width="53.6" height="162.5" fill="#cae7f0"/>
<rect x="793.5" y="1126.2" width="53.6" height="47.8" fill="#d2cee4"/>
<rect x="793.5" y="1174" width="53.6" height="48.7" fill="#8881b6"/>
<rect x="793.5" y="1222.7" width="53.6" height="11.8" fill="#ca87b5"/>
<rect x="793.5" y="192" width="2.7" height="1042.5" fill="#2a261c" opacity="0.75"/>
<rect x="844.3" y="192" width="2.8" height="1042.5" fill="#2a261c" opacity="0.8"/>
<rect x="793.5" y="191.6" width="53.6" height="3.4" fill="#2a261c" opacity="0.8"/>
<rect x="793.5" y="418.5" width="53.6" height="3.3" fill="#1c1718"/>
<rect x="793.5" y="686" width="53.6" height="3.3" fill="#1c1718"/>
<rect x="793.5" y="962.1" width="53.6" height="3.3" fill="#1c1718"/>
<rect x="793.5" y="1124.5" width="53.6" height="3.3" fill="#1c1718"/>
<rect x="793.5" y="1172.3" width="53.6" height="3.3" fill="#1c1718"/>
<rect x="793.5" y="1221" width="53.6" height="3.3" fill="#1c1718"/>
</g>
<g>
<rect x="873.1" y="192" width="53.6" height="626.4" fill="#c5da80"/>
<rect x="873.1" y="818.4" width="53.6" height="194.7" fill="#fdcaa2"/>
<rect x="873.1" y="1013.1" width="53.6" height="101.5" fill="#f3ee86"/>
<rect x="873.1" y="1114.6" width="53.6" height="37.4" fill="#cae7f0"/>
<rect x="873.1" y="1152" width="53.6" height="13.4" fill="#d2cee4"/>
<rect x="873.1" y="1165.4" width="53.6" height="24.9" fill="#8881b6"/>
<rect x="873.1" y="1190.3" width="53.6" height="44.2" fill="#ca87b5"/>
<rect x="873.1" y="192" width="2.7" height="1042.5" fill="#2a261c" opacity="0.75"/>
<rect x="923.9" y="192" width="2.8" height="1042.5" fill="#2a261c" opacity="0.8"/>
<rect x="873.1" y="191.6" width="53.6" height="3.4" fill="#2a261c" opacity="0.8"/>
<rect x="873.1" y="816.8" width="53.6" height="3.3" fill="#1c1718"/>
<rect x="873.1" y="1011.5" width="53.6" height="3.3" fill="#1c1718"/>
<rect x="873.1" y="1112.9" width="53.6" height="3.3" fill="#1c1718"/>
<rect x="873.1" y="1150.3" width="53.6" height="3.3" fill="#1c1718"/>
<rect x="873.1" y="1163.8" width="53.6" height="3.3" fill="#1c1718"/>
<rect x="873.1" y="1188.6" width="53.6" height="3.3" fill="#1c1718"/>
</g>
<g>
<rect x="952.6" y="192" width="53.6" height="263.2" fill="#c5da80"/>
<rect x="952.6" y="455.2" width="53.6" height="552.1" fill="#fdcaa2"/>
<rect x="952.6" y="1007.3" width="53.6" height="179.7" fill="#f3ee86"/>
<rect x="952.6" y="1187" width="53.6" height="29.4" fill="#cae7f0"/>
<rect x="952.6" y="1216.4" width="53.6" height="8.6" fill="#d2cee4"/>
<rect x="952.6" y="1225" width="53.6" height="9.5" fill="#8881b6"/>
<rect x="952.6" y="192" width="2.7" height="1042.5" fill="#2a261c" opacity="0.75"/>
<rect x="1003.4" y="192" width="2.8" height="1042.5" fill="#2a261c" opacity="0.8"/>
<rect x="952.6" y="191.6" width="53.6" height="3.4" fill="#2a261c" opacity="0.8"/>
<rect x="952.6" y="453.6" width="53.6" height="3.3" fill="#1c1718"/>
<rect x="952.6" y="1005.6" width="53.6" height="3.3" fill="#1c1718"/>
<rect x="952.6" y="1185.3" width="53.6" height="3.3" fill="#1c1718"/>
<rect x="952.6" y="1214.8" width="53.6" height="3.3" fill="#1c1718"/>
<rect x="952.6" y="1223.3" width="53.6" height="3.3" fill="#1c1718"/>
</g>
<g>
<rect x="1032.1" y="192" width="53.6" height="429.4" fill="#c5da80"/>
<rect x="1032.1" y="621.4" width="53.6" height="204.8" fill="#fdcaa2"/>
<rect x="1032.1" y="826.2" width="53.6" height="139" fill="#f3ee86"/>
<rect x="1032.1" y="965.2" width="53.6" height="64.7" fill="#cae7f0"/>
<rect x="1032.1" y="1029.9" width="53.6" height="24.9" fill="#d2cee4"/>
<rect x="1032.1" y="1054.8" width="53.6" height="99.3" fill="#8881b6"/>
<rect x="1032.1" y="1154.1" width="53.6" height="80.4" fill="#ca87b5"/>
<rect x="1032.1" y="192" width="2.7" height="1042.5" fill="#2a261c" opacity="0.75"/>
<rect x="1082.9" y="192" width="2.8" height="1042.5" fill="#2a261c" opacity="0.8"/>
<rect x="1032.1" y="191.6" width="53.6" height="3.4" fill="#2a261c" opacity="0.8"/>
<rect x="1032.1" y="619.8" width="53.6" height="3.3" fill="#1c1718"/>
<rect x="1032.1" y="824.6" width="53.6" height="3.3" fill="#1c1718"/>
<rect x="1032.1" y="963.6" width="53.6" height="3.3" fill="#1c1718"/>
<rect x="1032.1" y="1028.2" width="53.6" height="3.3" fill="#1c1718"/>
<rect x="1032.1" y="1053.1" width="53.6" height="3.3" fill="#1c1718"/>
<rect x="1032.1" y="1152.4" width="53.6" height="3.3" fill="#1c1718"/>
</g>
<g>
<rect x="1111.6" y="192" width="53.6" height="369.5" fill="#c5da80"/>
<rect x="1111.6" y="561.5" width="53.6" height="212.7" fill="#fdcaa2"/>
<rect x="1111.6" y="774.2" width="53.6" height="175.8" fill="#f3ee86"/>
<rect x="1111.6" y="950" width="53.6" height="116.9" fill="#cae7f0"/>
<rect x="1111.6" y="1066.9" width="53.6" height="59.7" fill="#d2cee4"/>
<rect x="1111.6" y="1126.6" width="53.6" height="59.8" fill="#8881b6"/>
<rect x="1111.6" y="1186.4" width="53.6" height="48.1" fill="#ca87b5"/>
<rect x="1111.6" y="192" width="2.7" height="1042.5" fill="#2a261c" opacity="0.75"/>
<rect x="1162.4" y="192" width="2.8" height="1042.5" fill="#2a261c" opacity="0.8"/>
<rect x="1111.6" y="191.6" width="53.6" height="3.4" fill="#2a261c" opacity="0.8"/>
<rect x="1111.6" y="559.9" width="53.6" height="3.3" fill="#1c1718"/>
<rect x="1111.6" y="772.6" width="53.6" height="3.3" fill="#1c1718"/>
<rect x="1111.6" y="948.4" width="53.6" height="3.3" fill="#1c1718"/>
<rect x="1111.6" y="1065.2" width="53.6" height="3.3" fill="#1c1718"/>
<rect x="1111.6" y="1124.9" width="53.6" height="3.3" fill="#1c1718"/>
<rect x="1111.6" y="1184.8" width="53.6" height="3.3" fill="#1c1718"/>
</g>
<g>
<rect x="1191.1" y="192" width="53.6" height="197.5" fill="#c5da80"/>
<rect x="1191.1" y="389.5" width="53.6" height="231.9" fill="#fdcaa2"/>
<rect x="1191.1" y="621.4" width="53.6" height="241.8" fill="#f3ee86"/>
<rect x="1191.1" y="863.2" width="53.6" height="179.1" fill="#cae7f0"/>
<rect x="1191.1" y="1042.3" width="53.6" height="79.1" fill="#d2cee4"/>
<rect x="1191.1" y="1121.4" width="53.6" height="92.3" fill="#8881b6"/>
<rect x="1191.1" y="1213.7" width="53.6" height="20.8" fill="#ca87b5"/>
<rect x="1191.1" y="192" width="2.7" height="1042.5" fill="#2a261c" opacity="0.75"/>
<rect x="1241.9" y="192" width="2.8" height="1042.5" fill="#2a261c" opacity="0.8"/>
<rect x="1191.1" y="191.6" width="53.6" height="3.4" fill="#2a261c" opacity="0.8"/>
<rect x="1191.1" y="387.9" width="53.6" height="3.3" fill="#1c1718"/>
<rect x="1191.1" y="619.8" width="53.6" height="3.3" fill="#1c1718"/>
<rect x="1191.1" y="861.6" width="53.6" height="3.3" fill="#1c1718"/>
<rect x="1191.1" y="1040.6" width="53.6" height="3.3" fill="#1c1718"/>
<rect x="1191.1" y="1119.8" width="53.6" height="3.3" fill="#1c1718"/>
<rect x="1191.1" y="1212" width="53.6" height="3.3" fill="#1c1718"/>
</g>
<g>
<rect x="1270.7" y="192" width="53.6" height="572.7" fill="#c5da80"/>
<rect x="1270.7" y="764.7" width="53.6" height="188.1" fill="#fdcaa2"/>
<rect x="1270.7" y="952.8" width="53.6" height="106.3" fill="#f3ee86"/>
<rect x="1270.7" y="1059.1" width="53.6" height="48.5" fill="#cae7f0"/>
<rect x="1270.7" y="1107.6" width="53.6" height="21.6" fill="#d2cee4"/>
<rect x="1270.7" y="1129.2" width="53.6" height="39.7" fill="#8881b6"/>
<rect x="1270.7" y="1168.9" width="53.6" height="65.6" fill="#ca87b5"/>
<rect x="1270.7" y="192" width="2.7" height="1042.5" fill="#2a261c" opacity="0.75"/>
<rect x="1321.5" y="192" width="2.8" height="1042.5" fill="#2a261c" opacity="0.8"/>
<rect x="1270.7" y="191.6" width="53.6" height="3.4" fill="#2a261c" opacity="0.8"/>
<rect x="1270.7" y="763.1" width="53.6" height="3.3" fill="#1c1718"/>
<rect x="1270.7" y="951.1" width="53.6" height="3.3" fill="#1c1718"/>
<rect x="1270.7" y="1057.4" width="53.6" height="3.3" fill="#1c1718"/>
<rect x="1270.7" y="1105.9" width="53.6" height="3.3" fill="#1c1718"/>
<rect x="1270.7" y="1127.5" width="53.6" height="3.3" fill="#1c1718"/>
<rect x="1270.7" y="1167.2" width="53.6" height="3.3" fill="#1c1718"/>
</g>
<g>
<rect x="1350.2" y="192" width="53.6" height="196.4" fill="#c5da80"/>
<rect x="1350.2" y="388.4" width="53.6" height="501.3" fill="#fdcaa2"/>
<rect x="1350.2" y="889.7" width="53.6" height="249.2" fill="#f3ee86"/>
<rect x="1350.2" y="1138.9" width="53.6" height="56.5" fill="#cae7f0"/>
<rect x="1350.2" y="1195.4" width="53.6" height="14.8" fill="#d2cee4"/>
<rect x="1350.2" y="1210.2" width="53.6" height="24.3" fill="#8881b6"/>
<rect x="1350.2" y="192" width="2.7" height="1042.5" fill="#2a261c" opacity="0.75"/>
<rect x="1401" y="192" width="2.8" height="1042.5" fill="#2a261c" opacity="0.8"/>
<rect x="1350.2" y="191.6" width="53.6" height="3.4" fill="#2a261c" opacity="0.8"/>
<rect x="1350.2" y="386.8" width="53.6" height="3.3" fill="#1c1718"/>
<rect x="1350.2" y="888.1" width="53.6" height="3.3" fill="#1c1718"/>
<rect x="1350.2" y="1137.2" width="53.6" height="3.3" fill="#1c1718"/>
<rect x="1350.2" y="1193.8" width="53.6" height="3.3" fill="#1c1718"/>
<rect x="1350.2" y="1208.5" width="53.6" height="3.3" fill="#1c1718"/>
</g>
<g>
<rect x="1429.7" y="192" width="53.6" height="498.4" fill="#c5da80"/>
<rect x="1429.7" y="690.4" width="53.6" height="176.7" fill="#fdcaa2"/>
<rect x="1429.7" y="867.1" width="53.6" height="107.1" fill="#f3ee86"/>
<rect x="1429.7" y="974.2" width="53.6" height="47.5" fill="#cae7f0"/>
<rect x="1429.7" y="1021.7" width="53.6" height="19.8" fill="#d2cee4"/>
<rect x="1429.7" y="1041.5" width="53.6" height="120.8" fill="#8881b6"/>
<rect x="1429.7" y="1162.3" width="53.6" height="72.2" fill="#ca87b5"/>
<rect x="1429.7" y="192" width="2.7" height="1042.5" fill="#2a261c" opacity="0.75"/>
<rect x="1480.5" y="192" width="2.8" height="1042.5" fill="#2a261c" opacity="0.8"/>
<rect x="1429.7" y="191.6" width="53.6" height="3.4" fill="#2a261c" opacity="0.8"/>
<rect x="1429.7" y="688.8" width="53.6" height="3.3" fill="#1c1718"/>
<rect x="1429.7" y="865.5" width="53.6" height="3.3" fill="#1c1718"/>
<rect x="1429.7" y="972.6" width="53.6" height="3.3" fill="#1c1718"/>
<rect x="1429.7" y="1020.1" width="53.6" height="3.3" fill="#1c1718"/>
<rect x="1429.7" y="1039.8" width="53.6" height="3.3" fill="#1c1718"/>
<rect x="1429.7" y="1160.6" width="53.6" height="3.3" fill="#1c1718"/>
</g>
<g>
<rect x="1509.2" y="192" width="53.6" height="423.6" fill="#c5da80"/>
<rect x="1509.2" y="615.6" width="53.6" height="200.1" fill="#fdcaa2"/>
<rect x="1509.2" y="815.7" width="53.6" height="155.7" fill="#f3ee86"/>
<rect x="1509.2" y="971.4" width="53.6" height="99" fill="#cae7f0"/>
<rect x="1509.2" y="1070.4" width="53.6" height="53.7" fill="#d2cee4"/>
<rect x="1509.2" y="1124.1" width="53.6" height="56.9" fill="#8881b6"/>
<rect x="1509.2" y="1181" width="53.6" height="53.5" fill="#ca87b5"/>
<rect x="1509.2" y="192" width="2.7" height="1042.5" fill="#2a261c" opacity="0.75"/>
<rect x="1560" y="192" width="2.8" height="1042.5" fill="#2a261c" opacity="0.8"/>
<rect x="1509.2" y="191.6" width="53.6" height="3.4" fill="#2a261c" opacity="0.8"/>
<rect x="1509.2" y="614" width="53.6" height="3.3" fill="#1c1718"/>
<rect x="1509.2" y="814.1" width="53.6" height="3.3" fill="#1c1718"/>
<rect x="1509.2" y="969.8" width="53.6" height="3.3" fill="#1c1718"/>
<rect x="1509.2" y="1068.8" width="53.6" height="3.3" fill="#1c1718"/>
<rect x="1509.2" y="1122.4" width="53.6" height="3.3" fill="#1c1718"/>
<rect x="1509.2" y="1179.3" width="53.6" height="3.3" fill="#1c1718"/>
</g>
<g>
<rect x="1588.7" y="192" width="53.6" height="231.6" fill="#c5da80"/>
<rect x="1588.7" y="423.6" width="53.6" height="266.8" fill="#fdcaa2"/>
<rect x="1588.7" y="690.4" width="53.6" height="224.2" fill="#f3ee86"/>
<rect x="1588.7" y="914.6" width="53.6" height="149.1" fill="#cae7f0"/>
<rect x="1588.7" y="1063.7" width="53.6" height="62.6" fill="#d2cee4"/>
<rect x="1588.7" y="1126.3" width="53.6" height="78.1" fill="#8881b6"/>
<rect x="1588.7" y="1204.4" width="53.6" height="30.1" fill="#ca87b5"/>
<rect x="1588.7" y="192" width="2.7" height="1042.5" fill="#2a261c" opacity="0.75"/>
<rect x="1639.5" y="192" width="2.8" height="1042.5" fill="#2a261c" opacity="0.8"/>
<rect x="1588.7" y="191.6" width="53.6" height="3.4" fill="#2a261c" opacity="0.8"/>
<rect x="1588.7" y="422" width="53.6" height="3.3" fill="#1c1718"/>
<rect x="1588.7" y="688.8" width="53.6" height="3.3" fill="#1c1718"/>
<rect x="1588.7" y="913" width="53.6" height="3.3" fill="#1c1718"/>
<rect x="1588.7" y="1062" width="53.6" height="3.3" fill="#1c1718"/>
<rect x="1588.7" y="1124.6" width="53.6" height="3.3" fill="#1c1718"/>
<rect x="1588.7" y="1202.8" width="53.6" height="3.3" fill="#1c1718"/>
</g>
<g>
<rect x="1668.3" y="192" width="53.6" height="599.2" fill="#c5da80"/>
<rect x="1668.3" y="791.2" width="53.6" height="183" fill="#fdcaa2"/>
<rect x="1668.3" y="974.2" width="53.6" height="84.9" fill="#f3ee86"/>
<rect x="1668.3" y="1059.1" width="53.6" height="40.9" fill="#cae7f0"/>
<rect x="1668.3" y="1100" width="53.6" height="20.2" fill="#d2cee4"/>
<rect x="1668.3" y="1120.2" width="53.6" height="39.4" fill="#8881b6"/>
<rect x="1668.3" y="1159.6" width="53.6" height="74.9" fill="#ca87b5"/>
<rect x="1668.3" y="192" width="2.7" height="1042.5" fill="#2a261c" opacity="0.75"/>
<rect x="1719.1" y="192" width="2.8" height="1042.5" fill="#2a261c" opacity="0.8"/>
<rect x="1668.3" y="191.6" width="53.6" height="3.4" fill="#2a261c" opacity="0.8"/>
<rect x="1668.3" y="789.6" width="53.6" height="3.3" fill="#1c1718"/>
<rect x="1668.3" y="972.6" width="53.6" height="3.3" fill="#1c1718"/>
<rect x="1668.3" y="1057.4" width="53.6" height="3.3" fill="#1c1718"/>
<rect x="1668.3" y="1098.3" width="53.6" height="3.3" fill="#1c1718"/>
<rect x="1668.3" y="1118.5" width="53.6" height="3.3" fill="#1c1718"/>
<rect x="1668.3" y="1157.9" width="53.6" height="3.3" fill="#1c1718"/>
</g>
<g>
<rect x="1747.8" y="192" width="53.6" height="286.1" fill="#c5da80"/>
<rect x="1747.8" y="478.1" width="53.6" height="505" fill="#fdcaa2"/>
<rect x="1747.8" y="983.1" width="53.6" height="173.9" fill="#f3ee86"/>
<rect x="1747.8" y="1157" width="53.6" height="41.5" fill="#cae7f0"/>
<rect x="1747.8" y="1198.5" width="53.6" height="12.5" fill="#d2cee4"/>
<rect x="1747.8" y="1211" width="53.6" height="23.5" fill="#8881b6"/>
<rect x="1747.8" y="192" width="2.7" height="1042.5" fill="#2a261c" opacity="0.75"/>
<rect x="1798.6" y="192" width="2.8" height="1042.5" fill="#2a261c" opacity="0.8"/>
<rect x="1747.8" y="191.6" width="53.6" height="3.4" fill="#2a261c" opacity="0.8"/>
<rect x="1747.8" y="476.5" width="53.6" height="3.3" fill="#1c1718"/>
<rect x="1747.8" y="981.5" width="53.6" height="3.3" fill="#1c1718"/>
<rect x="1747.8" y="1155.3" width="53.6" height="3.3" fill="#1c1718"/>
<rect x="1747.8" y="1196.8" width="53.6" height="3.3" fill="#1c1718"/>
<rect x="1747.8" y="1209.3" width="53.6" height="3.3" fill="#1c1718"/>
</g>
<g font-size="42" text-anchor="middle">
<text x="266" y="444.1">44%</text>
<text x="266" y="760.1">17%</text>
<text x="266" y="1190.9">13%</text>
<text x="345.5" y="413.9">39%</text>
<text x="345.5" y="728">22%</text>
<text x="345.5" y="915.2">14%</text>
<text x="425" y="319.5">21%</text>
<text x="425" y="552.1">23%</text>
<text x="425" y="791.2">22%</text>
<text x="425" y="986.3">15%</text>
<text x="504.6" y="488.5">53%</text>
<text x="504.6" y="868.9">21%</text>
<text x="584.1" y="367.2">30%</text>
<text x="584.1" y="803.1">53%</text>
<text x="663.6" y="432.1">42%</text>
<text x="663.6" y="769">23%</text>
<text x="663.6" y="966.2">15%</text>
<text x="743.1" y="406.8">37%</text>
<text x="743.1" y="711">22%</text>
<text x="743.1" y="912.7">17%</text>
<text x="822.6" y="322.1">22%</text>
<text x="822.6" y="569.9">26%</text>
<text x="822.6" y="841.7">26%</text>
<text x="822.6" y="1061">15%</text>
<text x="902.2" y="524.7">60%</text>
<text x="902.2" y="931.8">19%</text>
<text x="981.7" y="339.6">25%</text>
<text x="981.7" y="747.2">53%</text>
<text x="981.7" y="1113.2">17%</text>
<text x="1061.2" y="426.2">41%</text>
<text x="1061.2" y="739.8">20%</text>
<text x="1061.2" y="911.7">13%</text>
<text x="1140.7" y="396.2">35%</text>
<text x="1140.7" y="683.9">20%</text>
<text x="1140.7" y="878.1">17%</text>
<text x="1220.2" y="306.8">19%</text>
<text x="1220.2" y="521.5">22%</text>
<text x="1220.2" y="758.3">23%</text>
<text x="1220.2" y="968.8">17%</text>
<text x="1299.8" y="497.9">55%</text>
<text x="1299.8" y="874.8">18%</text>
<text x="1379.3" y="306.2">19%</text>
<text x="1379.3" y="655">48%</text>
<text x="1379.3" y="1030.3">24%</text>
<text x="1458.8" y="460.7">48%</text>
<text x="1458.8" y="794.8">17%</text>
<text x="1538.3" y="423.3">40%</text>
<text x="1538.3" y="731.7">19%</text>
<text x="1538.3" y="909.5">15%</text>
<text x="1617.8" y="323.8">22%</text>
<text x="1617.8" y="573">26%</text>
<text x="1617.8" y="818.5">21%</text>
<text x="1617.8" y="1005.2">14%</text>
<text x="1697.4" y="511.1">57%</text>
<text x="1697.4" y="898.7">18%</text>
<text x="1776.9" y="351.1">27%</text>
<text x="1776.9" y="746.6">48%</text>
<text x="1776.9" y="1086">17%</text>
</g>
<rect x="223.05" y="25.9" width="1592.2" height="1369.3" fill="none" stroke="#000" stroke-width="7.5"/>
<rect x="219.3" y="1233.9" width="1599.6" height="7.7" fill="#000"/>
<rect x="219.3" y="1313.4" width="1599.6" height="7.8" fill="#000"/>
<rect x="618.6" y="1238" width="5.9" height="156" fill="#000"/>
<rect x="1016.5" y="1238" width="5.9" height="156" fill="#000"/>
<rect x="1413.9" y="1238" width="5.9" height="156" fill="#000"/>
<g font-size="63.2" text-anchor="middle">
<text x="265.7" y="1296.9">1</text>
<text x="345.2" y="1296.9">2</text>
<text x="424.7" y="1296.9">3</text>
<text x="504.3" y="1296.9">4</text>
<text x="583.8" y="1296.9">5</text>
<text x="663.3" y="1296.9">1</text>
<text x="742.8" y="1296.9">2</text>
<text x="822.3" y="1296.9">3</text>
<text x="901.9" y="1296.9">4</text>
<text x="981.4" y="1296.9">5</text>
<text x="1060.9" y="1296.9">1</text>
<text x="1140.4" y="1296.9">2</text>
<text x="1219.9" y="1296.9">3</text>
<text x="1299.5" y="1296.9">4</text>
<text x="1379" y="1296.9">5</text>
<text x="1458.5" y="1296.9">1</text>
<text x="1538" y="1296.9">2</text>
<text x="1617.5" y="1296.9">3</text>
<text x="1697.1" y="1296.9">4</text>
<text x="1776.6" y="1296.9">5</text>
<text x="420" y="1377.8">NDVI</text>
<text x="829.5" y="1377.8">GPP</text>
<text x="1216.1" y="1377.8">NPP</text>
<text x="1622" y="1377.8">NEP</text>
</g>
<text x="252" y="84.8" font-size="60">B</text>
<g font-size="55.4">
<rect x="475" y="49.5" width="78.2" height="48.9" fill="#c5da80" stroke="#0c0c0c" stroke-width="3"/>
<text x="568.4" y="92.3">&gt;80%</text>
<rect x="762.4" y="49.5" width="78.2" height="48.9" fill="#fdcaa2" stroke="#0c0c0c" stroke-width="3"/>
<text x="853.5" y="92.3">60%~80%</text>
<rect x="1117" y="49.5" width="78.2" height="48.9" fill="#f3ee86" stroke="#0c0c0c" stroke-width="3"/>
<text x="1208.6" y="92.3">40%~60%</text>
<rect x="1475.2" y="49.5" width="78.2" height="48.9" fill="#cae7f0" stroke="#0c0c0c" stroke-width="3"/>
<text x="1563.4" y="92.3">20%~40%</text>
<rect x="475" y="117.5" width="78.2" height="48.9" fill="#d2cee4" stroke="#0c0c0c" stroke-width="3"/>
<text x="570.4" y="160.3">0~20%</text>
<rect x="762.4" y="117.5" width="78.2" height="48.9" fill="#8881b6" stroke="#0c0c0c" stroke-width="3"/>
<text x="853.5" y="160.3">-20%~0%</text>
<rect x="1117" y="117.5" width="78.2" height="48.9" fill="#ca87b5" stroke="#0c0c0c" stroke-width="3"/>
<text x="1211" y="160.3">&lt;-20%</text>
</g>
<text class="cjk" x="808.9" y="1479.8" font-size="61.7" textLength="431.9">生态工程重叠区</text>
</g>
<text class="cjk" transform="translate(165,909.6) rotate(-90)" x="0" y="0" font-size="62.5" textLength="562.5">气候因素贡献度占比</text>
<text class="cjk" transform="translate(2084,937.7) rotate(-90)" x="0" y="0" font-size="62.2" textLength="622">非气候因素贡献度占比</text>
</svg>
</body></html>
